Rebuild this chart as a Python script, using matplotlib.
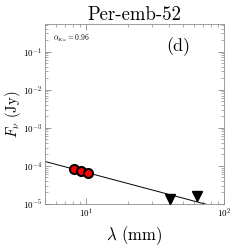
import matplotlib
matplotlib.use("Agg")
import matplotlib.pyplot as plt
import numpy as np

plt.rcParams["font.family"] = "serif"
plt.rcParams["font.serif"] = ["cmr10", "DejaVu Serif"]
plt.rcParams["mathtext.fontset"] = "cm"
plt.rcParams["axes.formatter.use_mathtext"] = True

# detections (mm, Jy)
wave = [8.1, 9.1, 10.3]
flux = [8.3e-5, 7.4e-5, 6.6e-5]
flux_err = [0.9e-5, 0.9e-5, 1.8e-5]

# upper limits
lim_wave = [40.5, 63.8]
lim_flux = [1.35e-5, 1.65e-5]

alpha_ka = 0.96
fit_norm = 1.3e-4  # flux at 5 mm
fit_range = [5.0, 100.0]

fig = plt.figure(figsize=(2.49, 2.49), dpi=100)
ax = fig.add_axes([0.181, 0.181, 0.719, 0.723])

lam = np.array(fit_range)
ax.plot(lam, fit_norm * (lam / fit_range[0]) ** (-alpha_ka), color="black", lw=0.7)

ax.errorbar(wave, flux, yerr=flux_err, fmt="o", color="black", mfc="red",
            mec="black", mew=1.5, ms=6.5, elinewidth=0.8, capsize=0, zorder=3)
ax.plot(lim_wave, lim_flux, "v", color="black", ms=7, zorder=3)

ax.set_xscale("log")
ax.set_yscale("log")
ax.set_xlim(5, 100)
ax.set_ylim(1e-5, 0.53)

ax.set_title("Per-emb-52", fontsize=13.5, pad=3)
ax.set_xlabel(r"$\lambda$ (mm)", fontsize=12, labelpad=3)
ax.set_ylabel(r"$F_\nu$ (Jy)", fontsize=10.5)
ax.yaxis.set_label_coords(-0.125, 0.5)
ax.text(0.045, 0.917, r"$\alpha_{Ka} = 0.96$", transform=ax.transAxes,
        fontsize=5.5, va="center")
ax.text(0.743, 0.872, "(d)", transform=ax.transAxes, fontsize=13,
        ha="center", va="center")

for s in ax.spines.values():
    s.set_color("0.55")
    s.set_linewidth(0.6)
ax.tick_params(which="both", direction="in", top=True, right=True,
               color="0.55", labelsize=6.5, pad=2)
ax.tick_params(which="major", length=4, width=0.6)
ax.tick_params(which="minor", length=2, width=0.5)

fig.savefig("out.png", dpi=100)
